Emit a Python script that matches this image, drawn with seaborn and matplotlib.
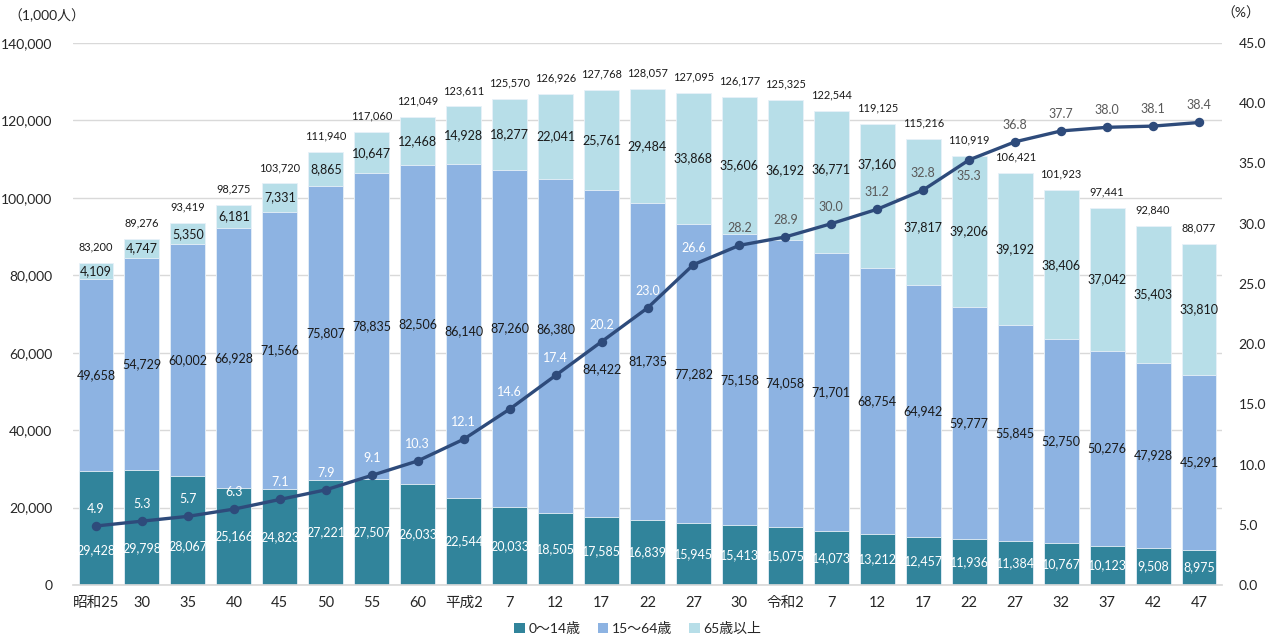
import numpy as np
import pandas as pd
import matplotlib
matplotlib.use("Agg")
import matplotlib.pyplot as plt
from matplotlib.patches import Patch
import seaborn as sns

# Population by age group (thousand persons) and ageing rate (%)
years = ["昭和25", "30", "35", "40", "45", "50", "55", "60", "平成2", "7", "12", "17",
         "22", "27", "30", "令和2", "7", "12", "17", "22", "27", "32", "37", "42", "47"]
age_0_14 = [29428, 29798, 28067, 25166, 24823, 27221, 27507, 26033, 22544, 20033, 18505, 17585,
            16839, 15945, 15413, 15075, 14073, 13212, 12457, 11936, 11384, 10767, 10123, 9508, 8975]
age_15_64 = [49658, 54729, 60002, 66928, 71566, 75807, 78835, 82506, 86140, 87260, 86380, 84422,
             81735, 77282, 75158, 74058, 71701, 68754, 64942, 59777, 55845, 52750, 50276, 47928, 45291]
age_65_plus = [4109, 4747, 5350, 6181, 7331, 8865, 10647, 12468, 14928, 18277, 22041, 25761,
               29484, 33868, 35606, 36192, 36771, 37160, 37817, 39206, 39192, 38406, 37042, 35403, 33810]
total_pop = [83200, 89276, 93419, 98275, 103720, 111940, 117060, 121049, 123611, 125570, 126926, 127768,
             128057, 127095, 126177, 125325, 122544, 119125, 115216, 110919, 106421, 101923, 97441, 92840, 88077]
aging_rate = [4.9, 5.3, 5.7, 6.3, 7.1, 7.9, 9.1, 10.3, 12.1, 14.6, 17.4, 20.2,
              23.0, 26.6, 28.2, 28.9, 30.0, 31.2, 32.8, 35.3, 36.8, 37.7, 38.0, 38.1, 38.4]
legend_labels = ["0〜14歳", "15〜64歳", "65歳以上"]

C_CHILD = "#31849B"
C_WORK = "#8DB3E2"
C_OLD = "#B7DEE8"
C_LINE = "#2E4B7B"
C_GRID = "#D9D9D9"

sns.set_theme(style="white")
plt.rcParams["font.family"] = ["Lato", "Noto Sans CJK JP", "DejaVu Sans"]
plt.rcParams["text.color"] = "#262626"

n = len(years)
idx = np.arange(n)
a = np.array(age_0_14)
b = np.array(age_15_64)
c = np.array(age_65_plus)
df = pd.DataFrame({"pos": idx, "s1": a, "s2": a + b, "s3": a + b + c, "rate": aging_rate})

fig = plt.figure(figsize=(12.76, 6.38), dpi=100)
ax = fig.add_axes([73 / 1276, 1 - 585 / 638, 1149 / 1276, 542 / 638])

# Stacked bars drawn as overlapping cumulative heights
for col, colr in [("s3", C_OLD), ("s2", C_WORK), ("s1", C_CHILD)]:
    sns.barplot(data=df, x="pos", y=col, color=colr, saturation=1, width=0.76,
                edgecolor="#E8F1F8", linewidth=0.6, ax=ax, zorder=2)

ax.set_xlim(-0.5, n - 0.5)
ax.set_ylim(0, 140000)
ax.set_yticks(np.arange(0, 140001, 20000))
ax.set_yticklabels([f"{v:,}" for v in range(0, 140001, 20000)], fontsize=10)
ax.set_xticks(idx)
ax.set_xticklabels(years, fontsize=10.5)
ax.set_xlabel("")
ax.set_ylabel("")
ax.grid(axis="y", color=C_GRID, linewidth=1, zorder=0)
ax.set_axisbelow(True)
for s in ["top", "right", "left"]:
    ax.spines[s].set_visible(False)
ax.spines["bottom"].set_color(C_GRID)
ax.tick_params(axis="both", length=0, pad=8, colors="#262626")
ax.tick_params(axis="y", pad=15)

# per-label vertical nudges in pixels (positive = downward)
nudge_child = {0: 22, 1: 21, 2: 15}
nudge_work = {9: -10, 10: -17, 11: 16}
nudge_old = {16: -13, 17: -32, 18: 15}
px = 72 / 100
seg_fs = 9.0

for i in range(n):
    ax.annotate(f"{a[i]:,}", (i, a[i] / 2), xytext=(0, -nudge_child.get(i, 0) * px),
                textcoords="offset points", ha="center", va="center",
                fontsize=seg_fs, color="white", zorder=5)
    ax.annotate(f"{b[i]:,}", (i, a[i] + b[i] / 2), xytext=(0, -nudge_work.get(i, 0) * px),
                textcoords="offset points", ha="center", va="center",
                fontsize=seg_fs, color="#1a1a1a", zorder=5)
    ax.annotate(f"{c[i]:,}", (i, a[i] + b[i] + c[i] / 2), xytext=(0, -nudge_old.get(i, 0) * px),
                textcoords="offset points", ha="center", va="center",
                fontsize=seg_fs, color="#1a1a1a", zorder=5)
    ax.annotate(f"{total_pop[i]:,}", (i, a[i] + b[i] + c[i]), xytext=(0, 16 * px),
                textcoords="offset points", ha="center", va="center",
                fontsize=7.9, color="#1a1a1a", annotation_clip=False, zorder=5)

# Ageing rate on the secondary axis
ax2 = ax.twinx()
sns.pointplot(data=df, x="pos", y="rate", color=C_LINE, markers="o", markersize=5,
              linewidth=2.4, ax=ax2, native_scale=False)
ax2.set_ylim(0, 45)
ax2.set_xlim(-0.5, n - 0.5)
ax2.set_yticks(np.arange(0, 46, 5))
ax2.set_yticklabels([f"{v:.1f}" for v in range(0, 46, 5)], fontsize=10)
ax2.set_ylabel("")
ax2.set_xlabel("")
for s in ["top", "right", "left", "bottom"]:
    ax2.spines[s].set_visible(False)
ax2.tick_params(axis="y", length=0, pad=12, colors="#262626")

for i, r in enumerate(aging_rate):
    below = i == 19
    col = "white" if i <= 13 else "#595959"
    ax2.annotate(f"{r:.1f}", (i, r), xytext=(0, (-16 if below else 17) * px),
                 textcoords="offset points", ha="center", va="center",
                 fontsize=seg_fs, color=col, zorder=6)

fig.text(8 / 1276, 1 - 15 / 638, "（1,000人）", fontsize=10, ha="left", va="center")
fig.text(1260 / 1276, 1 - 13 / 638, "（%）", fontsize=10, ha="right", va="center")

handles = [Patch(facecolor=colr, edgecolor="none") for colr in (C_CHILD, C_WORK, C_OLD)]
fig.legend(handles, legend_labels, loc="center", bbox_to_anchor=(0.5, 1 - 628 / 638),
           ncol=3, frameon=False, fontsize=10, handlelength=0.75, handleheight=0.75,
           handletextpad=0.3, columnspacing=1.2)

fig.savefig("out.png", dpi=100)
